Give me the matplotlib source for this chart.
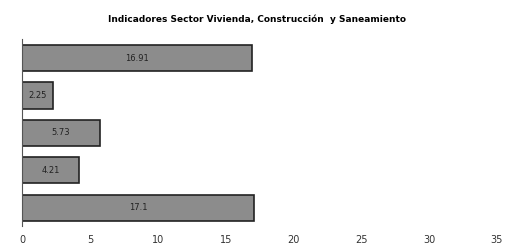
import matplotlib.pyplot as plt

# bar values, top to bottom as drawn
values = [16.91, 2.25, 5.73, 4.21, 17.1]
labels = ['16.91', '2.25', '5.73', '4.21', '17.1']
ticks = [0, 5, 10, 15, 20, 25, 30, 35]

fig = plt.figure(figsize=(5.15, 2.46), dpi=100)
ax = fig.add_axes([0.043, 0.08, 0.922, 0.76])

pos = list(range(len(values)))[::-1]
ax.barh(pos, values, height=0.7, color='#8c8c8c', edgecolor='#222222', linewidth=1.2)
for p, v, t in zip(pos, values, labels):
    ax.text(v / 2, p, t, ha='center', va='center', fontsize=6, color='#222222')

ax.set_xlim(0, 35)
ax.set_ylim(-0.5, 4.5)
ax.set_xticks(ticks)
ax.set_xticklabels([str(t) for t in ticks], fontsize=7, color='#333333')
ax.set_yticks([])
ax.tick_params(axis='x', length=0, pad=6)
for s in ['top', 'right', 'bottom']:
    ax.spines[s].set_visible(False)
ax.spines['left'].set_color('#555555')

fig.text(0.5, 0.92, 'Indicadores Sector Vivienda, Construcción  y Saneamiento',
         ha='center', va='center', fontsize=6.5, fontweight='bold')

plt.savefig('out.png', dpi=100)
